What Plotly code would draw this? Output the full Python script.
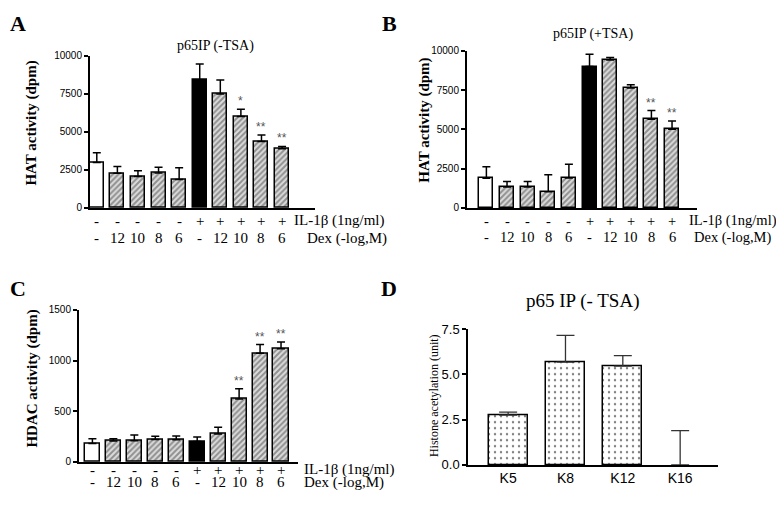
import plotly.graph_objects as go

# The page body has an 8px default margin; size the figure so it fits the 784x510 window
OFF = 8
W, H = 784 - 2 * OFF, 510 - 2 * OFF

# ---------------- data ----------------
il1b = ["-", "-", "-", "-", "-", "+", "+", "+", "+", "+"]
dex = ["-", "12", "10", "8", "6", "-", "12", "10", "8", "6"]

hat_minus_tsa = [2980, 2280, 2060, 2300, 1870, 8400, 7490, 6000, 4360, 3890]
hat_minus_tsa_err = [640, 450, 380, 380, 770, 1060, 920, 490, 430, 150]
hat_minus_stars = ["", "", "", "", "", "", "", "*", "**", "**"]

hat_plus_tsa = [1890, 1330, 1330, 1030, 1900, 9010, 9420, 7640, 5650, 5010]
hat_plus_tsa_err = [730, 350, 350, 1080, 890, 780, 160, 200, 550, 530]
hat_plus_stars = ["", "", "", "", "", "", "", "", "**", "**"]

hdac = [182, 206, 210, 222, 219, 203, 275, 620, 1071, 1115]
hdac_err = [46, 22, 56, 31, 37, 44, 68, 101, 86, 67]
hdac_stars = ["", "", "", "", "", "", "", "**", "**", "**"]

lysines = ["K5", "K8", "K12", "K16"]
acetyl = [2.75, 5.68, 5.46, 0.0]
acetyl_err = [0.17, 1.48, 0.58, 1.89]

# bar fill styles for the 10-bar panels
colors = ["white", "#dcdcdc", "#dcdcdc", "#dcdcdc", "#dcdcdc",
          "black", "#dcdcdc", "#dcdcdc", "#dcdcdc", "#dcdcdc"]
shapes = ["", "/", "/", "/", "/", "", "/", "/", "/", "/"]

SERIF = "Liberation Serif"
SANS = "Liberation Sans"


def px_x(p):
    return (p - OFF) / W


def px_y(p):
    return 1 - (p - OFF) / H


fig = go.Figure()

panels = [
    ("", hat_minus_tsa, hat_minus_tsa_err, hat_minus_stars, (90, 315), (50, 207), (-0.33, 10.6), 10000, 2500, 0.68),
    ("2", hat_plus_tsa, hat_plus_tsa_err, hat_plus_stars, (467, 697), (45, 207), (-0.94, 10.21), 10000, 2500, 0.68),
    ("3", hdac, hdac_err, hdac_stars, (79, 298), (312, 469), (-0.64, 9.81), 1500, 500, 0.72),
]

annotations = []
layout_axes = {}


def ann(**kw):
    kw.setdefault("xanchor", "center")
    kw.setdefault("yanchor", "middle")
    kw.setdefault("showarrow", False)
    annotations.append(kw)


for name, vals, errs, stars, xd, yd, xr, ymax, dt, bw in panels:
    xa = "x" + name
    ya = "y" + name
    fig.add_trace(go.Bar(
        x=list(range(len(vals))), y=vals, width=bw,
        xaxis=xa, yaxis=ya,
        marker=dict(color=colors, line=dict(color="black", width=1.5),
                    pattern=dict(shape=shapes, fgcolor="black", size=4, solidity=0.5)),
        error_y=dict(type="data", array=errs, arrayminus=[0] * len(errs), symmetric=False,
                     color="black", thickness=1.5, width=4),
        showlegend=False, hoverinfo="skip",
    ))
    layout_axes["xaxis" + name] = dict(domain=[px_x(xd[0]), px_x(xd[1])], range=list(xr), anchor=ya,
                                       showgrid=False, zeroline=False, showline=True, linecolor="black",
                                       linewidth=2, ticks="", showticklabels=False)
    layout_axes["yaxis" + name] = dict(domain=[px_y(yd[1]), px_y(yd[0])], range=[0, ymax], anchor=xa,
                                       showgrid=False, zeroline=False, showline=True, linecolor="black",
                                       linewidth=2, ticks="outside", ticklen=4, tickwidth=2,
                                       tickcolor="black", dtick=dt, tick0=0, tickformat="d",
                                       tickfont=dict(family=SANS, size=10, color="black"))
    for i, s in enumerate(stars):
        if s:
            ann(x=i, y=vals[i] + errs[i], xref=xa, yref=ya, text=s, yanchor="bottom", yshift=-1,
                font=dict(family=SANS, size=12, color="#555555"))

# panel D
fig.add_trace(go.Bar(
    x=list(range(len(lysines))), y=acetyl, width=0.68, xaxis="x4", yaxis="y4",
    marker=dict(color="white", line=dict(color="black", width=[1.5 if v > 0 else 0 for v in acetyl]),
                pattern=dict(shape=".", fgcolor="black", bgcolor="white", size=6, solidity=0.12)),
    error_y=dict(type="data", array=acetyl_err, arrayminus=[0] * len(acetyl_err), symmetric=False,
                 color="#333333", thickness=1.3, width=9),
    showlegend=False, hoverinfo="skip",
))
layout_axes["xaxis4"] = dict(domain=[px_x(468), px_x(718)], range=[-0.70, 3.66], anchor="y4",
                             showgrid=False, zeroline=False, showline=True, linecolor="black",
                             linewidth=1.5, ticks="", tickmode="array",
                             tickvals=list(range(len(lysines))), ticktext=lysines,
                             tickfont=dict(family=SANS, size=14, color="black"))
layout_axes["yaxis4"] = dict(domain=[px_y(472), px_y(332)], range=[0, 7.5], anchor="x4",
                             showgrid=False, zeroline=False, showline=True, linecolor="black",
                             linewidth=1.5, ticks="outside", ticklen=4, tickwidth=1.5,
                             tickcolor="black", dtick=2.5, tick0=0, tickformat=".1f",
                             tickfont=dict(family=SANS, size=13, color="black"))

# treatment rows (A, B, C)
rows = [
    ("x", 220, 238, 292, 305, 15),
    ("x2", 220, 237, 687, 692, 14.5),
    ("x3", 477, 490, 302, 302, 15),
]
for xa, r1, r2, lab1x, lab2x, fs in rows:
    f = dict(family=SERIF, size=fs, color="black")
    for i in range(len(il1b)):
        ann(x=i, y=px_y(r1), xref=xa, yref="paper", text=il1b[i], font=f)
        ann(x=i, y=px_y(r2), xref=xa, yref="paper", text=dex[i], font=f)
    ann(x=px_x(lab1x), y=px_y(r1), xref="paper", yref="paper", text="IL-1β (1ng/ml)",
        xanchor="left", font=f)
    ann(x=px_x(lab2x), y=px_y(r2), xref="paper", yref="paper", text="Dex (-log,M)",
        xanchor="left", font=f)

# titles
for txt, x, y, sz in [("p65IP (-TSA)", 215, 40, 14), ("p65IP (+TSA)", 593, 28, 14),
                      ("p65 IP (- TSA)", 582, 303, 19)]:
    ann(x=px_x(x), y=px_y(y), xref="paper", yref="paper", text=txt,
        font=dict(family=SERIF, size=sz, color="black"))

# y-axis titles
for txt, x, y, sz, bold in [("HAT activity (dpm)", 32, 120, 15, True),
                            ("HAT activity (dpm)", 425, 117, 15, True),
                            ("HDAC activity (dpm)", 33, 383, 15, True),
                            ("Histone acetylation (unit)", 434, 401, 12, False)]:
    ann(x=px_x(x), y=px_y(y), xref="paper", yref="paper",
        text=f"<b>{txt}</b>" if bold else txt, textangle=-90,
        font=dict(family=SERIF, size=sz, color="black"))

# panel letters
for txt, x, y in [("A", 18, 17), ("B", 389, 17), ("C", 18, 290), ("D", 389, 290)]:
    ann(x=px_x(x), y=px_y(y), xref="paper", yref="paper", text=f"<b>{txt}</b>",
        font=dict(family=SERIF, size=22, color="black"))

fig.update_layout(
    width=W, height=H, margin=dict(l=0, r=0, t=0, b=0),
    paper_bgcolor="white", plot_bgcolor="rgba(0,0,0,0)",
    bargap=0, annotations=annotations, **layout_axes,
)

fig.write_html("out.html")
